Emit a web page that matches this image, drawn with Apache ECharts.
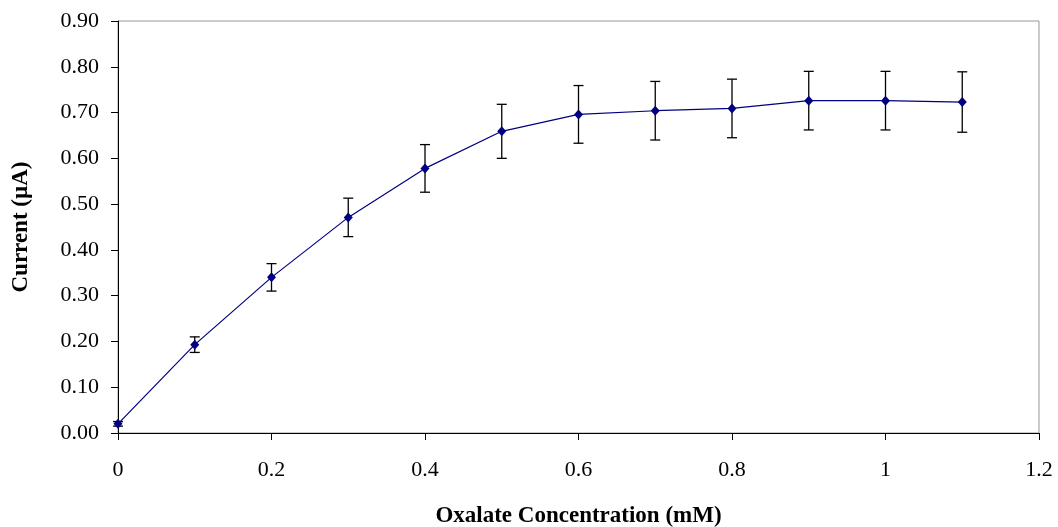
<!DOCTYPE html>
<html>
<head>
<meta charset="utf-8">
<script src="https://cdn.jsdelivr.net/npm/echarts@6/dist/echarts.min.js"></script>
<style>
  html, body { margin: 0; padding: 0; background: #fff; }
  #chart { width: 1058px; height: 527px; }
</style>
</head>
<body>
<div id="chart"></div>
<script>
// oxalate concentration (mM)
var concentration = [0, 0.1, 0.2, 0.3, 0.4, 0.5, 0.6, 0.7, 0.8, 0.9, 1.0, 1.1];
// current (uA)
var current = [0.02, 0.193, 0.340, 0.471, 0.578, 0.659, 0.696, 0.704, 0.709, 0.726, 0.726, 0.723];
// error (+/-)
var errors = [0.005, 0.017, 0.030, 0.042, 0.052, 0.059, 0.063, 0.064, 0.064, 0.064, 0.064, 0.066];

var lineData = concentration.map(function (x, i) { return [x, current[i]]; });
var errData = concentration.map(function (x, i) {
  return [x, current[i] - errors[i], current[i] + errors[i]];
});

var font = "'Liberation Serif', 'Times New Roman', serif";
var myChart = echarts.init(document.getElementById("chart"));
myChart.setOption({
  animation: false,
  grid: {
    left: 118,
    right: 19,
    top: 21,
    bottom: 94,
    outerBoundsMode: "none",
    containLabel: false,
    show: true,
    borderColor: "#999",
    borderWidth: 1
  },
  xAxis: {
    type: "value",
    min: 0,
    max: 1.2,
    interval: 0.2,
    name: "Oxalate Concentration (mM)",
    nameLocation: "middle",
    nameGap: 72,
    nameTextStyle: { fontFamily: font, fontSize: 23, fontWeight: "bold", color: "#000" },
    axisLine: { lineStyle: { color: "#000", width: 1 } },
    axisTick: { show: true, inside: false, length: 7, lineStyle: { color: "#000" } },
    axisLabel: { fontFamily: font, fontSize: 22, color: "#000", margin: 26 },
    splitLine: { show: false }
  },
  yAxis: {
    type: "value",
    min: 0,
    max: 0.9,
    interval: 0.1,
    name: "Current (\u00b5A)",
    nameLocation: "middle",
    nameGap: 85,
    nameRotate: 90,
    nameTextStyle: { fontFamily: font, fontSize: 23, fontWeight: "bold", color: "#000" },
    axisLine: { show: true, lineStyle: { color: "#000", width: 1 } },
    axisTick: { show: true, inside: false, length: 7, lineStyle: { color: "#000" } },
    axisLabel: {
      fontFamily: font,
      fontSize: 22,
      color: "#000",
      margin: 19,
      formatter: function (v) { return v.toFixed(2); }
    },
    splitLine: { show: false }
  },
  series: [
    {
      type: "custom",
      data: errData,
      z: 2,
      renderItem: function (params, api) {
        var x = api.value(0);
        var lo = api.coord([x, api.value(1)]);
        var hi = api.coord([x, api.value(2)]);
        var cap = 5;
        var style = { stroke: "#000", lineWidth: 1.3 };
        return {
          type: "group",
          children: [
            { type: "line", shape: { x1: hi[0], y1: hi[1], x2: lo[0], y2: lo[1] }, style: style },
            { type: "line", shape: { x1: hi[0] - cap, y1: hi[1], x2: hi[0] + cap, y2: hi[1] }, style: style },
            { type: "line", shape: { x1: lo[0] - cap, y1: lo[1], x2: lo[0] + cap, y2: lo[1] }, style: style }
          ]
        };
      }
    },
    {
      type: "line",
      data: lineData,
      z: 3,
      symbol: "diamond",
      symbolSize: [9, 10],
      itemStyle: { color: "#000080" },
      lineStyle: { color: "#000080", width: 1.2 }
    }
  ]
});
</script>
</body>
</html>
